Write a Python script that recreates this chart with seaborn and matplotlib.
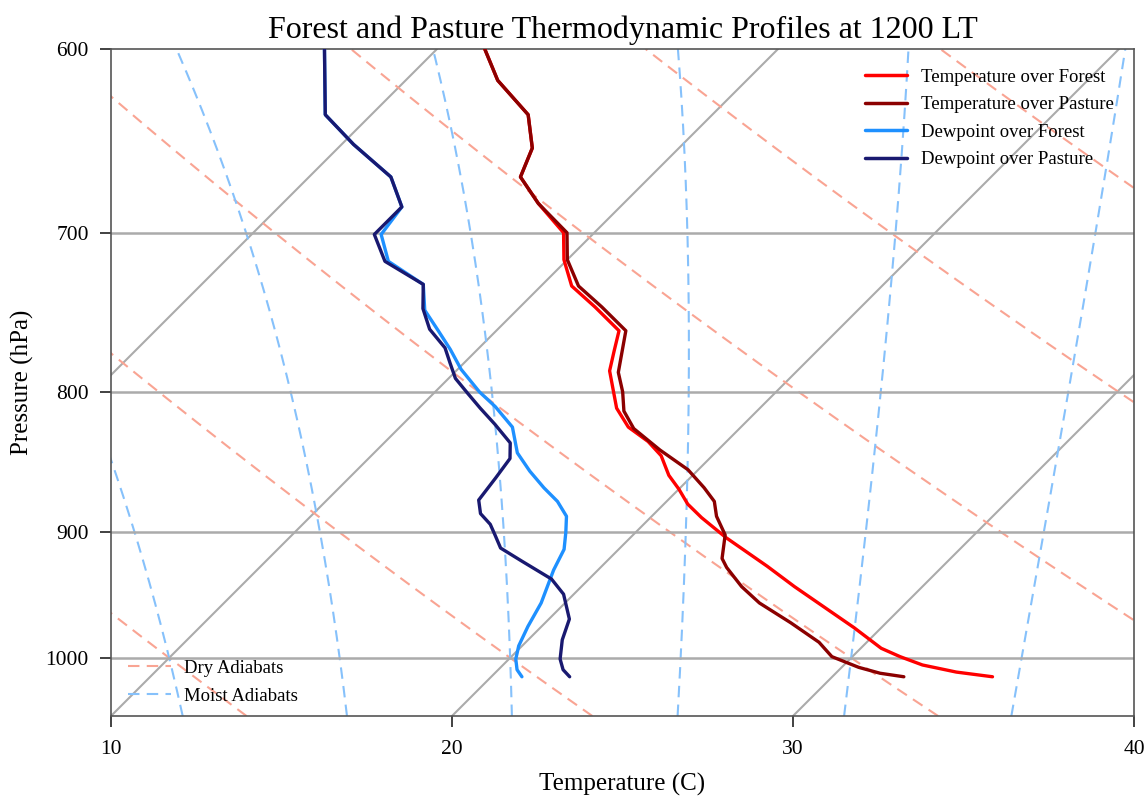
import numpy as np
import pandas as pd
import matplotlib
matplotlib.use("Agg")
import matplotlib.pyplot as plt
from matplotlib.lines import Line2D
from matplotlib.ticker import FixedLocator, FixedFormatter, NullLocator
import seaborn as sns

# ---------------- data ----------------
p_temp_pasture = [600, 616, 634, 652, 668, 683, 700, 716, 732, 745, 760, 787, 800, 813,
                  825, 840, 854, 867, 877, 888, 902, 920, 927, 942, 955, 971, 987, 999,
                  1008, 1013, 1016]
t_pasture = [1.4, 2.7, 4.6, 5.7, 6.2, 7.5, 9.2, 10.0, 11.1, 12.4, 13.8, 14.8, 15.5, 16.1,
             16.9, 18.3, 19.7, 20.7, 21.4, 21.9, 22.7, 23.3, 23.7, 24.7, 25.7, 27.2, 28.6,
             29.4, 30.5, 31.3, 32.1]

p_temp_forest = [600, 616, 634, 652, 668, 683, 700, 716, 732, 745, 760, 773, 786, 811,
                 824, 834, 844, 858, 868, 879, 889, 904, 926, 942, 975, 992, 999, 1006,
                 1012, 1016]
t_forest = [1.4, 2.7, 4.6, 5.7, 6.2, 7.5, 9.1, 9.9, 10.9, 12.2, 13.6, 14.05, 14.5, 15.8,
            16.7, 17.7, 18.5, 19.3, 20.0, 20.7, 21.5, 22.8, 24.85, 26.25, 29.2, 30.6, 31.4,
            32.3, 33.5, 34.7]

p_dew_pasture = [600, 634, 650, 668, 685, 701, 717, 731, 746, 759, 771, 781, 791, 801,
                 811, 822, 835, 846, 860, 876, 886, 894, 902, 912, 922, 936, 948, 968,
                 985, 1001, 1010, 1016]
td_pasture = [-3.3, -1.35, 0.35, 2.4, 3.6, 3.6, 4.7, 6.5, 7.2, 8.0, 9.0, 9.6, 10.2, 11.0,
              11.8, 12.7, 13.7, 14.15, 14.3, 14.45, 14.9, 15.5, 15.95, 16.5, 17.5, 18.9,
              19.7, 20.6, 21.0, 21.5, 21.9, 22.3]

p_dew_forest = [600, 634, 650, 668, 685, 701, 717, 731, 747, 760, 772, 785, 800, 810,
                824, 842, 855, 867, 877, 888, 900, 913, 929, 955, 974, 990, 1001, 1010,
                1016]
td_forest = [-3.3, -1.35, 0.35, 2.4, 3.6, 3.8, 4.8, 6.5, 7.3, 8.3, 9.2, 10.1, 11.3, 12.2,
             13.3, 14.2, 15.1, 16.0, 16.8, 17.5, 17.95, 18.4, 18.7, 19.3, 19.6, 19.9,
             20.2, 20.55, 20.9]

x_ticks = [10, 20, 30, 40]
y_ticks = [600, 700, 800, 900, 1000]
legend_profiles = ["Temperature over Forest", "Temperature over Pasture",
                   "Dewpoint over Forest", "Dewpoint over Pasture"]
legend_adiabats = ["Dry Adiabats", "Moist Adiabats"]

# ---------------- layout ----------------
W, H, DPI = 11.48, 7.98, 100
P_BOT, P_TOP = 1050.0, 600.0
X_MIN, X_MAX = 10.0, 40.0

sns.set_theme(style="white")
plt.rcParams["font.family"] = ["Liberation Serif", "DejaVu Serif"]
plt.rcParams["mathtext.fontset"] = "stix"
plt.rcParams["text.color"] = "black"
plt.rcParams["axes.labelcolor"] = "black"
plt.rcParams["xtick.color"] = "black"
plt.rcParams["ytick.color"] = "black"

fig = plt.figure(figsize=(W, H), dpi=DPI)
ax_l, ax_b = 111 / 1148, 1 - 716 / 798
ax_w, ax_h = 1023 / 1148, 667 / 798
ax = fig.add_axes([ax_l, ax_b, ax_w, ax_h])

# 45 degree skew in display space
px_per_deg = ax_w * W * DPI / (X_MAX - X_MIN)
px_per_ln = ax_h * H * DPI / np.log(P_BOT / P_TOP)
K = px_per_ln / px_per_deg


def skew(t, p):
    return np.asarray(t, float) + K * np.log(P_BOT / np.asarray(p, float))


# ---------------- reference lines ----------------
iso_col = "#ababab"
p_line = np.array([P_BOT, P_TOP])
for t0 in range(-60, 50, 10):
    ax.plot(skew([t0, t0], p_line), p_line, color=iso_col, lw=1.5, zorder=1)

dry_col = "#f9a493"
dash = (0, (5.5, 3.5))
p_dense = np.geomspace(P_BOT, P_TOP, 200)
for th in range(-30, 200, 10):
    tk = (th + 273.15) * (p_dense / 1000.0) ** 0.2857
    ax.plot(skew(tk - 273.15, p_dense), p_dense, color=dry_col, lw=1.5,
            ls=dash, zorder=1)

# moist adiabats by integrating the saturated lapse rate
Rd, Cp, Lv, eps = 287.04749, 1004.6662, 2.50084e6, 0.621957


def dTdp(T, p):
    tc = T - 273.15
    es = 6.112 * np.exp(17.67 * tc / (tc + 243.5))
    rs = eps * es / (p - es)
    return (Rd * T + Lv * rs) / (Cp + Lv * Lv * rs * eps / (Rd * T * T)) / p


def integrate(T0, p0, p1, n=300):
    ps = np.linspace(p0, p1, n)
    Ts = [T0]
    for i in range(n - 1):
        h = ps[i + 1] - ps[i]
        T, p = Ts[-1], ps[i]
        k1 = dTdp(T, p)
        k2 = dTdp(T + h * k1 / 2, p + h / 2)
        k3 = dTdp(T + h * k2 / 2, p + h / 2)
        k4 = dTdp(T + h * k3, p + h)
        Ts.append(T + h * (k1 + 2 * k2 + 2 * k3 + k4) / 6)
    return ps, np.array(Ts)


moist_col = "#86c1fb"
for t0 in range(-10, 45, 5):
    pu, tu = integrate(t0 + 273.15, 1000.0, P_TOP)
    pd_, td_ = integrate(t0 + 273.15, 1000.0, P_BOT)
    pp = np.concatenate([pd_[::-1], pu[1:]])
    tt = np.concatenate([td_[::-1], tu[1:]]) - 273.15
    ax.plot(skew(tt, pp), pp, color=moist_col, lw=1.5, ls=dash, zorder=1)

# ---------------- profiles ----------------
profiles = [
    (p_temp_forest, t_forest, "red", legend_profiles[0]),
    (p_temp_pasture, t_pasture, "#8b0000", legend_profiles[1]),
    (p_dew_forest, td_forest, "#1e90ff", legend_profiles[2]),
    (p_dew_pasture, td_pasture, "#191970", legend_profiles[3]),
]
for p, t, c, lab in profiles:
    df = pd.DataFrame({"x": skew(t, p), "p": p})
    sns.lineplot(data=df, x="x", y="p", sort=False, estimator=None, color=c,
                 lw=2.4, ax=ax, zorder=5, legend=False)

# ---------------- axes ----------------
ax.set_yscale("log")
ax.set_ylim(P_BOT, P_TOP)
ax.set_xlim(X_MIN, X_MAX)
ax.yaxis.set_major_locator(FixedLocator(y_ticks))
ax.yaxis.set_major_formatter(FixedFormatter([str(v) for v in y_ticks]))
ax.yaxis.set_minor_locator(NullLocator())
ax.xaxis.set_major_locator(FixedLocator(x_ticks))
ax.set_xticklabels([str(v) for v in x_ticks])
for y in y_ticks[1:]:
    ax.axhline(y, color=iso_col, lw=1.8, zorder=1)
ax.tick_params(axis="both", which="major", direction="out", length=8, width=1.3,
               labelsize=15.5, colors="#333333", labelcolor="black", bottom=True, left=True)
ax.tick_params(axis="x", pad=9)
ax.tick_params(axis="y", pad=8)
for s in ax.spines.values():
    s.set_color("#555555")
    s.set_linewidth(1.2)

ax.set_xlabel("Temperature (C)", fontsize=18, labelpad=10, color="black")
ax.set_ylabel("Pressure (hPa)", fontsize=18, labelpad=8, color="black")
ax.set_title("Forest and Pasture Thermodynamic Profiles at 1200 LT", fontsize=23, pad=8,
             color="black")

h1 = [Line2D([], [], color=c, lw=2.5) for _, _, c, _ in profiles]
leg1 = ax.legend(h1, legend_profiles, loc="upper right", frameon=False, fontsize=13.5,
                 handlelength=2.25, handletextpad=0.75, borderaxespad=0.4,
                 labelspacing=0.55, bbox_to_anchor=(0.995, 0.993), labelcolor="black")
ax.add_artist(leg1)
h2 = [Line2D([], [], color=dry_col, lw=1.5, ls=dash),
      Line2D([], [], color=moist_col, lw=1.5, ls=dash)]
ax.legend(h2, legend_adiabats, loc="lower left", frameon=False, fontsize=13.5,
          handlelength=2.25, handletextpad=0.7, labelspacing=0.58,
          borderaxespad=0.2, bbox_to_anchor=(0.006, 0.0), labelcolor="black")

fig.savefig("out.png", dpi=DPI)
